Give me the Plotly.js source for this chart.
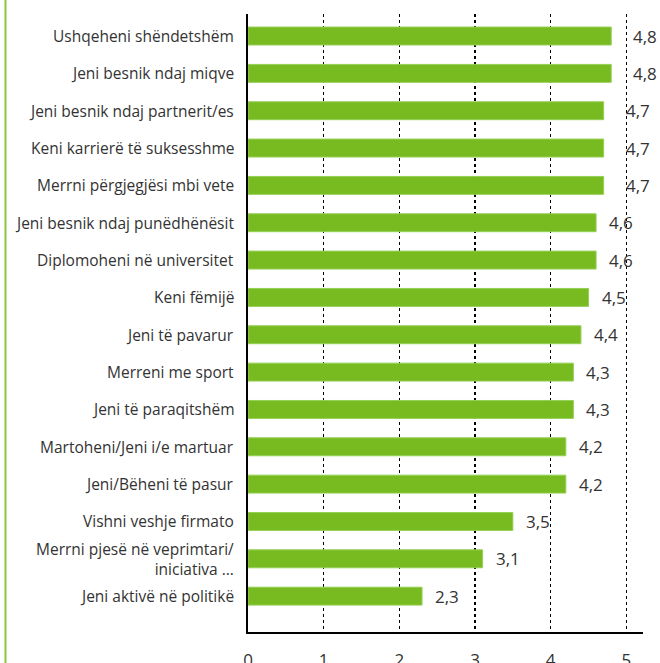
<!DOCTYPE html>
<html><head><meta charset="utf-8">
<script src="https://cdn.plot.ly/plotly-3.0.1.min.js"></script>
<style>html,body{margin:0;padding:0;background:#fff;}#chart{width:660px;height:663px;}</style>
</head><body><div id="chart"></div>
<script>
const categories = [
  "Ushqeheni shëndetshëm",
  "Jeni besnik ndaj miqve",
  "Jeni besnik ndaj partnerit/es",
  "Keni karrierë të suksesshme",
  "Merrni përgjegjësi mbi vete",
  "Jeni besnik ndaj punëdhënësit",
  "Diplomoheni në universitet",
  "Keni fëmijë",
  "Jeni të pavarur",
  "Merreni me sport",
  "Jeni të paraqitshëm",
  "Martoheni/Jeni i/e martuar",
  "Jeni/Bëheni të pasur",
  "Vishni veshje firmato",
  "Merrni pjesë në veprimtari/<br>iniciativa …",
  "Jeni aktivë në politikë"
];
const values = [4.8, 4.8, 4.7, 4.7, 4.7, 4.6, 4.6, 4.5, 4.4, 4.3, 4.3, 4.2, 4.2, 3.5, 3.1, 2.3];
const tickVals = [0, 1, 2, 3, 4, 5];
const tickText = ["0", "1", "2", "3", "4", "5"];

const font = "'Open Sans', 'Noto Sans', sans-serif";
const W = 660, L = 248, R = 17, T = 14, B = 31;
const plotW = W - L - R, plotH = 663 - T - B;

const trace = {
  type: 'bar', orientation: 'h',
  y: categories, x: values,
  marker: {color: '#77bb21', line: {color: '#95cf55', width: 1}},
  width: 0.48,
  hoverinfo: 'none'
};

const valueLabels = values.map((v, i) => ({
  x: v, y: categories[i], xref: 'x', yref: 'y',
  text: v.toFixed(1).replace('.', ','),
  showarrow: false, xanchor: 'left', xshift: v >= 4.7 ? 20 : 11,
  font: {family: font, size: 17, color: '#333'}
}));

const categoryLabels = categories.map((c) => ({
  x: 0, y: c, xref: 'paper', yref: 'y',
  text: c, showarrow: false, xanchor: 'right', align: 'right',
  xshift: -12,
  font: {family: font, size: 15.5, color: '#333'}
}));

const layout = {
  width: 660, height: 663,
  margin: {l: L, r: R, t: T, b: B},
  paper_bgcolor: '#fff', plot_bgcolor: '#fff',
  showlegend: false,
  bargap: 0.52,
  font: {family: font, size: 15, color: '#333'},
  xaxis: {
    range: [0, 5.22], tickvals: tickVals, ticktext: tickText,
    showgrid: true, gridcolor: '#000', gridwidth: 1.5, griddash: 'dot',
    zeroline: false, showline: true, linecolor: '#000', linewidth: 2,
    ticks: '', ticklabelstandoff: 12,
    tickfont: {family: font, size: 17, color: '#333'},
    fixedrange: true
  },
  yaxis: {
    type: 'category', range: [15.96, -0.59],
    showgrid: false, zeroline: false, showline: true, linecolor: '#000', linewidth: 2,
    ticks: '', showticklabels: false,
    fixedrange: true
  },
  annotations: valueLabels.concat(categoryLabels),
  shapes: [{
    type: 'line', xref: 'paper', yref: 'paper',
    x0: (5.5 - L) / plotW, x1: (5.5 - L) / plotW,
    y0: -B / plotH, y1: 1 + T / plotH,
    line: {color: '#8cc63f', width: 2}
  }]
};

Plotly.newPlot('chart', [trace], layout, {displayModeBar: false, staticPlot: true});
</script></body></html>
